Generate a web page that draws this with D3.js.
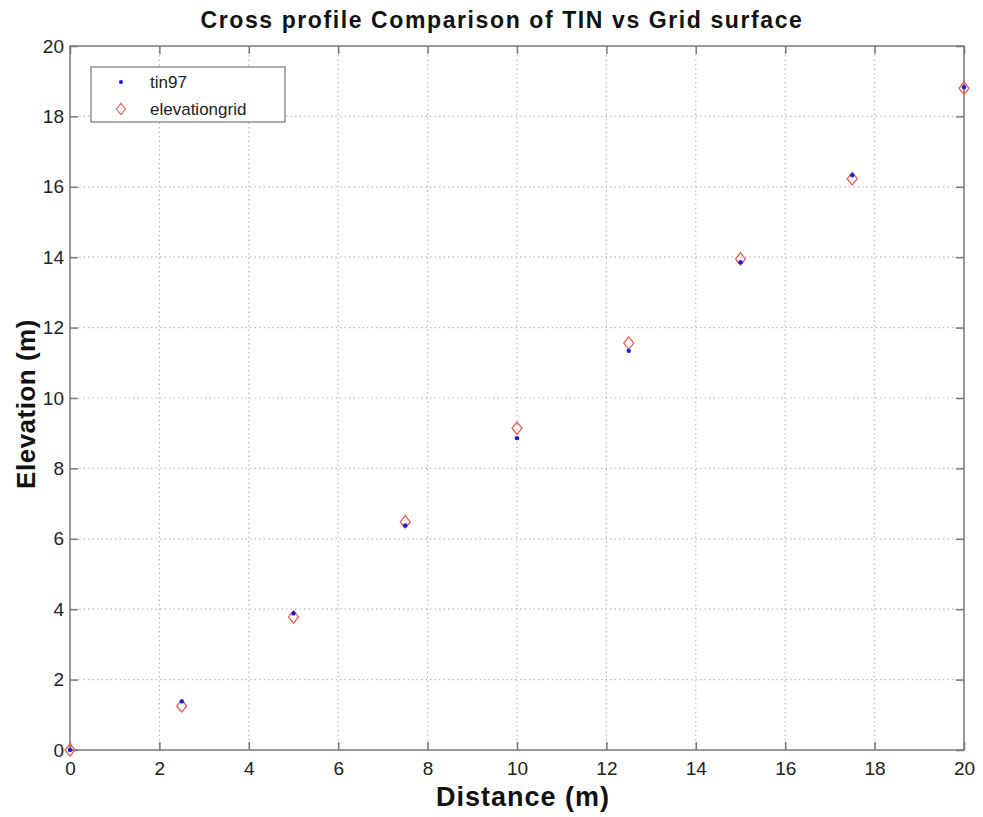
<!DOCTYPE html>
<html><head><meta charset="utf-8">
<script src="https://cdn.jsdelivr.net/npm/d3@7"></script>
<style>body{margin:0;background:#fff}svg{display:block}text{font-family:"Liberation Sans",Arial,sans-serif}</style>
</head><body>
<script>
const distance = [0, 2.5, 5, 7.5, 10, 12.5, 15, 17.5, 20];
const tin97 = [0, 1.38, 3.88, 6.38, 8.86, 11.34, 13.86, 16.33, 18.83];
const elevationgrid = [0, 1.25, 3.78, 6.48, 9.14, 11.56, 13.95, 16.23, 18.8];
const xTicks = [0,2,4,6,8,10,12,14,16,18,20];
const yTicks = [0,2,4,6,8,10,12,14,16,18,20];
const titleText = "Cross profile Comparison of TIN vs Grid surface";
const xLabel = "Distance (m)";
const yLabel = "Elevation (m)";
const seriesNames = ["tin97", "elevationgrid"];

const W = 983, H = 817;
const L = 70, R = 964, T = 46, B = 750;
const svg = d3.select("body").append("svg").attr("width", W).attr("height", H);
const x = d3.scaleLinear().domain([0,20]).range([L,R]);
const y = d3.scaleLinear().domain([0,20]).range([B,T]);
const axisCol = "#777";

// grid
const g = svg.append("g");
xTicks.forEach(t => {
  if (t>0 && t<20) g.append("line").attr("x1",x(t)).attr("x2",x(t)).attr("y1",T).attr("y2",B)
    .attr("stroke","#bbb").attr("stroke-dasharray","1.5,3").attr("stroke-width",1.2);
});
yTicks.forEach(t => {
  if (t>0 && t<20) g.append("line").attr("x1",L).attr("x2",R).attr("y1",y(t)).attr("y2",y(t))
    .attr("stroke","#bbb").attr("stroke-dasharray","1.5,3").attr("stroke-width",1.2);
});

// box
svg.append("rect").attr("x",L).attr("y",T).attr("width",R-L).attr("height",B-T)
  .attr("fill","none").attr("stroke",axisCol).attr("stroke-width",1.5);

// axes with inward ticks
const xa = svg.append("g").attr("transform",`translate(0,${B})`)
  .call(d3.axisBottom(x).tickValues(xTicks).tickSizeInner(-8).tickSizeOuter(0).tickPadding(14));
const xaT = svg.append("g").attr("transform",`translate(0,${T})`)
  .call(d3.axisTop(x).tickValues(xTicks).tickSizeInner(-8).tickSizeOuter(0).tickFormat(""));
const ya = svg.append("g").attr("transform",`translate(${L},0)`)
  .call(d3.axisLeft(y).tickValues(yTicks).tickSizeInner(-8).tickSizeOuter(0).tickPadding(14));
const yaR = svg.append("g").attr("transform",`translate(${R},0)`)
  .call(d3.axisRight(y).tickValues(yTicks).tickSizeInner(-8).tickSizeOuter(0).tickFormat(""));
[xa,xaT,ya,yaR].forEach(a => {
  a.select(".domain").remove();
  a.selectAll("line").attr("stroke",axisCol).attr("stroke-width",1.5);
  a.selectAll("text").attr("font-size",19).attr("fill","#222").attr("font-family",'"Liberation Sans",Arial,sans-serif');
});
xa.selectAll("text").attr("dy","0.71em").attr("y",12);
ya.selectAll("text").attr("x",-6);

// points
const pts = distance.map((d,i)=>({d, tin:tin97[i], grid:elevationgrid[i]}));
const diamond = (cx,cy,s) => `M${cx},${cy-s*1.25}L${cx+s},${cy}L${cx},${cy+s*1.25}L${cx-s},${cy}Z`;
svg.append("g").selectAll("path").data(pts).join("path")
  .attr("d", p => diamond(x(p.d), y(p.grid), 5))
  .attr("fill","none").attr("stroke","#e0605a").attr("stroke-width",1.3);
svg.append("g").selectAll("circle").data(pts).join("circle")
  .attr("cx", p => x(p.d)).attr("cy", p => y(p.tin)).attr("r",2.2).attr("fill","#1a1adf");

// legend
const lg = svg.append("g");
lg.append("rect").attr("x",91).attr("y",67).attr("width",194).attr("height",55)
  .attr("fill","#fff").attr("stroke",axisCol).attr("stroke-width",1.2);
lg.append("circle").attr("cx",121).attr("cy",82).attr("r",2).attr("fill","#1a1adf");
lg.append("path").attr("d",diamond(121,109,4.5)).attr("fill","none").attr("stroke","#e0605a").attr("stroke-width",1.2);
lg.append("text").attr("x",150).attr("y",88).attr("font-size",17).attr("fill","#222").text(seriesNames[0]);
lg.append("text").attr("x",150).attr("y",115).attr("font-size",17).attr("fill","#222").text(seriesNames[1]);

// title & labels
svg.append("text").attr("x",(L+R)/2 - 15).attr("y",28).attr("text-anchor","middle")
  .attr("font-size",23).attr("font-weight","bold").attr("letter-spacing",1.6).attr("fill","#111").text(titleText);
svg.append("text").attr("x",(L+R)/2 + 6).attr("y",806).attr("text-anchor","middle")
  .attr("font-size",27).attr("font-weight","bold").attr("letter-spacing",1).attr("fill","#111").text(xLabel);
svg.append("text").attr("transform",`translate(35,${(T+B)/2 + 6}) rotate(-90)`).attr("text-anchor","middle")
  .attr("font-size",26).attr("font-weight","bold").attr("letter-spacing",0.5).attr("fill","#111").text(yLabel);
</script>
</body></html>
